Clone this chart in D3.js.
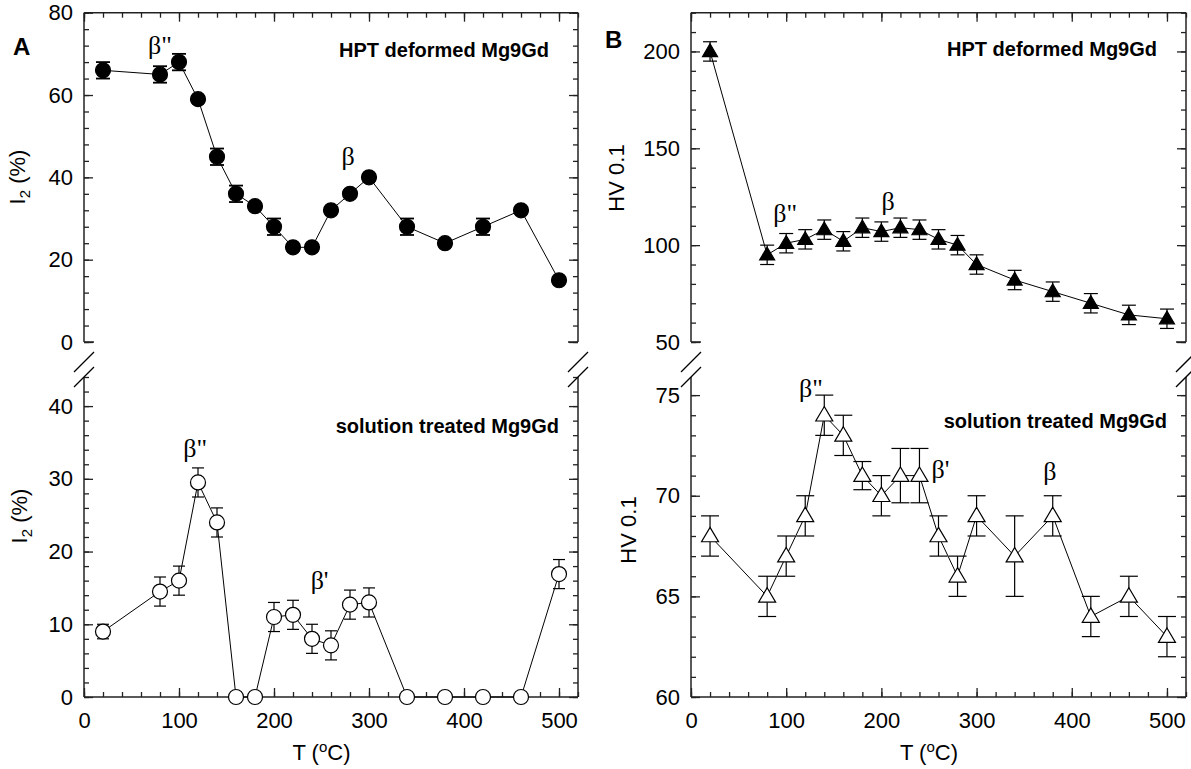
<!DOCTYPE html>
<html>
<head>
<meta charset="utf-8">
<script src="https://cdn.jsdelivr.net/npm/d3@7"></script>
<style>
body { margin: 0; background: #fff; }
</style>
</head>
<body>
<svg id="chart" width="1191" height="769"></svg>
<script>
// annealing temperatures (same for all four series)
const temps = [20, 80, 100, 120, 140, 160, 180, 200, 220, 240, 260, 280, 300, 340, 380, 420, 460, 500];

// I2 (%) - HPT deformed
const i2Hpt = [66, 65, 68, 59, 45, 36, 33, 28, 23, 23, 32, 36, 40, 28, 24, 28, 32, 15];
const i2HptErr = [2, 2, 2, 0.8, 2, 2, 0.8, 2, 0.8, 0.8, 0.8, 0.8, 0.8, 2, 0.8, 2, 0.8, 0.8];
// I2 (%) - solution treated
const i2Sol = [9, 14.5, 16, 29.5, 24, 0, 0, 11, 11.3, 8, 7.1, 12.7, 13, 0, 0, 0, 0, 16.9];
const i2SolErr = [1, 2, 2, 2, 2, 0, 0, 2, 2, 2, 2, 2, 2, 0, 0, 0, 0, 2];
// HV 0.1 - HPT deformed
const hvHpt = [200, 95, 101, 103, 108, 102, 109, 107, 109, 108, 103, 100, 90, 82, 76, 70, 64, 62];
const hvHptErr = [5, 5, 5, 5, 5, 5, 5, 5, 5, 5, 5, 5, 5, 5, 5, 5, 5, 5];
// HV 0.1 - solution treated
const hvSol = [68, 65, 67, 69, 74, 73, 71, 70, 71, 71, 68, 66, 69, 67, 69, 64, 65, 63];
const hvSolErr = [1, 1, 1, 1, 1, 1, 0.7, 1, 1.35, 1.35, 1, 1, 1, 2, 1, 1, 1, 1];

// tick labels
const xTicks = [0, 100, 200, 300, 400, 500];
const i2HptTicks = [0, 20, 40, 60, 80];
const i2SolTicks = [0, 10, 20, 30, 40];
const hvHptTicks = [50, 100, 150, 200];
const hvSolTicks = [60, 65, 70, 75];

// phase annotations [T, value, label]
const notesA1 = [[80, 70, "β\""], [278, 43, "β"]];
const notesA2 = [[117, 33, "β\""], [248, 14.8, "β'"]];
const notesB1 = [[99, 112, "β\""], [207, 118, "β"]];
const notesB2 = [[126, 74.9, "β\""], [262, 70.9, "β'"], [377, 70.8, "β"]];

const sansFont = "Arial, 'Liberation Sans', sans-serif";
const serifFont = "'Times New Roman', 'Liberation Serif', serif";
const axisColor = "#222";

const svg = d3.select("#chart");

const upperRange = [342, 12.7];
const lowerRange = [697, 377];

const xA = d3.scaleLinear().domain([0, 520]).range([84, 578]);
const xB = d3.scaleLinear().domain([0, 520]).range([691, 1186]);

function styleAxis(g) {
    g.select(".domain").remove();
    g.selectAll("line").attr("stroke", axisColor).attr("stroke-width", 1.3);
    g.attr("font-family", sansFont).attr("font-size", 22);
    g.selectAll("text").attr("fill", "#000");
}

function minorValues(domain, step) {
    return d3.range(domain[0], domain[1] + 1e-6, step);
}

function subplot(opts) {
    const x = opts.x, y = opts.y;
    const g = svg.append("g");
    const [x0, x1] = x.range();
    const [yb, yt] = y.range();

    // frame
    const frame = g.append("g")
        .attr("fill", "none")
        .attr("stroke", axisColor)
        .attr("stroke-width", 1.5);
    frame.append("line").attr("x1", x0).attr("x2", x0).attr("y1", yt).attr("y2", yb);
    frame.append("line").attr("x1", x1).attr("x2", x1).attr("y1", yt).attr("y2", yb);
    if (opts.upper) {
        frame.append("line").attr("x1", x0).attr("x2", x1).attr("y1", yt).attr("y2", yt);
        frame.append("line").attr("x1", x0).attr("x2", x0 + 10).attr("y1", yb).attr("y2", yb);
        frame.append("line").attr("x1", x1 - 10).attr("x2", x1).attr("y1", yb).attr("y2", yb);
    } else {
        frame.append("line").attr("x1", x0).attr("x2", x1).attr("y1", yb).attr("y2", yb);
    }

    // y axes (ticks pointing inward)
    g.append("g").attr("transform", `translate(${x0},0)`)
        .call(d3.axisLeft(y).tickValues(opts.yTicks).tickSize(-9).tickPadding(11))
        .call(styleAxis);
    g.append("g").attr("transform", `translate(${x0},0)`)
        .call(d3.axisLeft(y).tickValues(minorValues(y.domain(), opts.yMinor)).tickSize(-5).tickFormat(""))
        .call(styleAxis);
    g.append("g").attr("transform", `translate(${x1},0)`)
        .call(d3.axisRight(y).tickValues(opts.yTicks).tickSize(-9).tickFormat(""))
        .call(styleAxis);
    g.append("g").attr("transform", `translate(${x1},0)`)
        .call(d3.axisRight(y).tickValues(minorValues(y.domain(), opts.yMinor)).tickSize(-5).tickFormat(""))
        .call(styleAxis);

    // x axis
    const xMinor = d3.range(0, 521, 20);
    if (opts.upper) {
        g.append("g").attr("transform", `translate(0,${yt})`)
            .call(d3.axisTop(x).tickValues(xTicks).tickSize(-9).tickFormat(""))
            .call(styleAxis);
        g.append("g").attr("transform", `translate(0,${yt})`)
            .call(d3.axisTop(x).tickValues(xMinor).tickSize(-5).tickFormat(""))
            .call(styleAxis);
    } else {
        g.append("g").attr("transform", `translate(0,${yb})`)
            .call(d3.axisBottom(x).tickValues(xTicks).tickSize(-9).tickPadding(15))
            .call(styleAxis);
        g.append("g").attr("transform", `translate(0,${yb})`)
            .call(d3.axisBottom(x).tickValues(xMinor).tickSize(-5).tickFormat(""))
            .call(styleAxis);
    }

    const pts = temps.map((t, i) => ({ t, v: opts.values[i], e: opts.errs[i] }));

    // connecting line
    g.append("path")
        .datum(pts)
        .attr("fill", "none")
        .attr("stroke", "#000")
        .attr("stroke-width", 1)
        .attr("d", d3.line().x(d => x(d.t)).y(d => y(d.v)));

    // error bars
    const eb = g.append("g").attr("stroke", "#000").attr("stroke-width", opts.errWidth);
    pts.filter(d => d.e > 0).forEach(d => {
        const cx = x(d.t);
        eb.append("line").attr("x1", cx).attr("x2", cx).attr("y1", y(d.v - d.e)).attr("y2", y(d.v + d.e));
        eb.append("line").attr("x1", cx - opts.cap).attr("x2", cx + opts.cap).attr("y1", y(d.v - d.e)).attr("y2", y(d.v - d.e));
        eb.append("line").attr("x1", cx - opts.cap).attr("x2", cx + opts.cap).attr("y1", y(d.v + d.e)).attr("y2", y(d.v + d.e));
    });

    // markers
    const mk = g.append("g");
    if (opts.marker === "circle") {
        mk.selectAll("circle").data(pts).enter().append("circle")
            .attr("cx", d => x(d.t))
            .attr("cy", d => y(d.v))
            .attr("r", opts.size)
            .attr("fill", opts.filled ? "#000" : "#fff")
            .attr("stroke", "#000")
            .attr("stroke-width", 1.2);
    } else {
        const w = opts.size, h = opts.size * 0.85;
        const tri = `M0,${-h * 0.6}L${w / 2},${h * 0.4}L${-w / 2},${h * 0.4}Z`;
        mk.selectAll("path").data(pts).enter().append("path")
            .attr("d", tri)
            .attr("transform", d => `translate(${x(d.t)},${y(d.v)})`)
            .attr("fill", opts.filled ? "#000" : "#fff")
            .attr("stroke", "#000")
            .attr("stroke-width", 1.2);
    }

    // phase labels
    g.selectAll(".note").data(opts.notes).enter().append("text")
        .attr("class", "note")
        .attr("x", d => x(d[0]))
        .attr("y", d => y(d[1]))
        .attr("text-anchor", "middle")
        .attr("font-family", serifFont)
        .attr("font-size", 26)
        .text(d => d[2]);

    // sample label
    g.append("text")
        .attr("x", x1 - opts.titleRight)
        .attr("y", opts.titleY)
        .attr("text-anchor", "end")
        .attr("font-family", sansFont)
        .attr("font-weight", "bold")
        .attr("font-size", 20)
        .text(opts.title);

    // y axis title
    const yt2 = g.append("text")
        .attr("transform", `translate(${opts.ylabX},${opts.ylabY}) rotate(-90)`)
        .attr("text-anchor", "middle")
        .attr("font-family", sansFont)
        .attr("font-size", 22);
    if (opts.ylab === "I2") {
        yt2.append("tspan").text("I");
        yt2.append("tspan").attr("font-size", 15).attr("dy", 5).text("2");
        yt2.append("tspan").attr("dy", -5).text(" (%)");
    } else {
        yt2.text("HV 0.1");
    }
}

function breakMarks(x) {
    const bm = svg.append("g").attr("stroke", "#000").attr("stroke-width", 1.3);
    x.range().forEach(px => {
        [362, 377].forEach(py => {
            bm.append("line")
                .attr("x1", px - 10).attr("y1", py + 10)
                .attr("x2", px + 10).attr("y2", py - 10);
        });
    });
}

function xTitle(x) {
    const t = svg.append("text")
        .attr("x", x(250))
        .attr("y", 760)
        .attr("text-anchor", "middle")
        .attr("font-family", sansFont)
        .attr("font-size", 22);
    t.append("tspan").text("T (");
    t.append("tspan").attr("font-size", 15).attr("dy", -8).text("o");
    t.append("tspan").attr("dy", 8).text("C)");
}

// panel A
subplot({
    x: xA, y: d3.scaleLinear().domain([0, 80]).range(upperRange), upper: true,
    yTicks: i2HptTicks, yMinor: 4, values: i2Hpt, errs: i2HptErr,
    marker: "circle", filled: true, size: 7.5, cap: 7, errWidth: 1.8,
    notes: notesA1, title: "HPT deformed Mg9Gd", titleRight: 29, titleY: 57,
    ylab: "I2", ylabX: 25, ylabY: 177
});
subplot({
    x: xA, y: d3.scaleLinear().domain([0, 44]).range(lowerRange), upper: false,
    yTicks: i2SolTicks, yMinor: 2, values: i2Sol, errs: i2SolErr,
    marker: "circle", filled: false, size: 7.5, cap: 6, errWidth: 1.2,
    notes: notesA2, title: "solution treated Mg9Gd", titleRight: 19, titleY: 433,
    ylab: "I2", ylabX: 27, ylabY: 516
});
breakMarks(xA);
xTitle(xA);

// panel B
subplot({
    x: xB, y: d3.scaleLinear().domain([50, 220]).range(upperRange), upper: true,
    yTicks: hvHptTicks, yMinor: 10, values: hvHpt, errs: hvHptErr,
    marker: "tri", filled: true, size: 15, cap: 7, errWidth: 1.2,
    notes: notesB1, title: "HPT deformed Mg9Gd", titleRight: 29, titleY: 56,
    ylab: "HV", ylabX: 624, ylabY: 178
});
subplot({
    x: xB, y: d3.scaleLinear().domain([60, 75.9]).range(lowerRange), upper: false,
    yTicks: hvSolTicks, yMinor: 1, values: hvSol, errs: hvSolErr,
    marker: "tri", filled: false, size: 17, cap: 9, errWidth: 1.2,
    notes: notesB2, title: "solution treated Mg9Gd", titleRight: 19, titleY: 428,
    ylab: "HV", ylabX: 636, ylabY: 530
});
breakMarks(xB);
xTitle(xB);

// panel letters
svg.append("text").attr("x", 13).attr("y", 55)
    .attr("font-family", sansFont).attr("font-weight", "bold").attr("font-size", 24).text("A");
svg.append("text").attr("x", 605).attr("y", 48)
    .attr("font-family", sansFont).attr("font-weight", "bold").attr("font-size", 24).text("B");
</script>
</body>
</html>
